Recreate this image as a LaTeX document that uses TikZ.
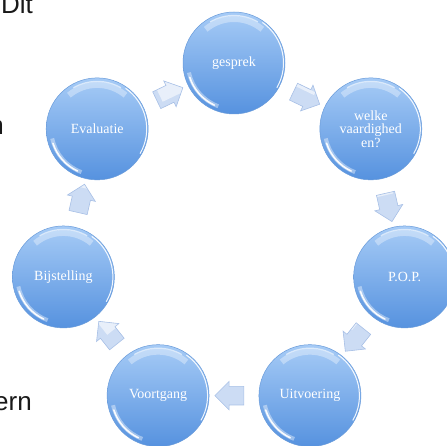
\documentclass[tikz,border=0pt]{standalone}
\usepackage{fontspec}
\setmainfont{Liberation Serif}
\newfontfamily\docfont{Liberation Sans}
\usetikzlibrary{shapes.arrows,calc}
\begin{document}
\begin{tikzpicture}[x=1pt, y=1pt,
    every node/.style={font=\fontsize{14}{13.5}\selectfont},
    bubble/.style={circle, minimum size=102pt, inner sep=2pt, align=center,
      text=white, draw=bubbleEdge, line width=0.5pt,
      top color=bubbleTop, bottom color=bubbleBottom,
      path picture={
        \coordinate (pc) at (path picture bounding box.center);
        \draw[white, opacity=0.35, line width=6pt] ($(pc)+(130:44)$) arc[start angle=130, end angle=50, radius=44];
        \draw[white, opacity=0.6, line width=1.2pt] ($(pc)+(120:47.5)$) arc[start angle=120, end angle=60, radius=47.5];
        \draw[white, opacity=0.9, line width=1pt] ($(pc)+(55:49.5)$) arc[start angle=55, end angle=-30, radius=49.5];
        \draw[white, opacity=0.4, line width=4pt] ($(pc)+(192:46)$) arc[start angle=192, end angle=250, radius=46];
        \draw[white, opacity=0.95, line width=1.6pt, line cap=round] ($(pc)+(198:46.5)$) arc[start angle=198, end angle=245, radius=46.5];
      }},
    cyclearrow/.style={single arrow, minimum height=29pt,
      single arrow head extend=5pt, inner sep=0pt, draw=arrowEdge, line width=0.6pt,
      fill=arrowFill,
      path picture={
        \fill[white, opacity=0.55] (path picture bounding box.north west) rectangle ([yshift=-10pt]path picture bounding box.north east);
      }},
    doctext/.style={anchor=base east, inner sep=0pt, text=docGray,
      font=\docfont\fontsize{26}{30}\selectfont}]
  \definecolor{bubbleTop}{RGB}{166,203,246}
  \definecolor{bubbleBottom}{RGB}{86,146,223}
  \definecolor{bubbleEdge}{RGB}{105,155,218}
  \definecolor{arrowFill}{RGB}{204,220,244}
  \definecolor{arrowEdge}{RGB}{168,192,230}
  \definecolor{docGray}{RGB}{25,25,25}
  \useasboundingbox (0,0) rectangle (446,446);
  % tekst van het document erachter
  \node[doctext] (dit) at (33,432) {Dit};
  \node[doctext] (regel) at (4,311) {n};
  \node[doctext] (ern) at (32,35) {ern};
  % de cirkels
  \foreach \name/\txt [count=\i from 0] in {gesprek/gesprek, welke/{welke\\vaardighed\\en?},
      pop/P.O.P., uitvoering/Uitvoering, voortgang/Voortgang, bijstelling/Bijstelling, evaluatie/Evaluatie}
    \node[bubble] (\name) at ($(234,208)+({90-\i*360/7}:175)$) {\txt};
  % pijlen met de klok mee
  \foreach \a/\b [count=\i from 0] in {gesprek/welke, welke/pop, pop/uitvoering, uitvoering/voortgang,
      voortgang/bijstelling, bijstelling/evaluatie, evaluatie/gesprek}
    \node[cyclearrow, rotate={-(\i+0.5)*360/7}] (pijl\i) at ($(\a)!0.5!(\b)$) {\rule{0pt}{18pt}};
\end{tikzpicture}
\end{document}
